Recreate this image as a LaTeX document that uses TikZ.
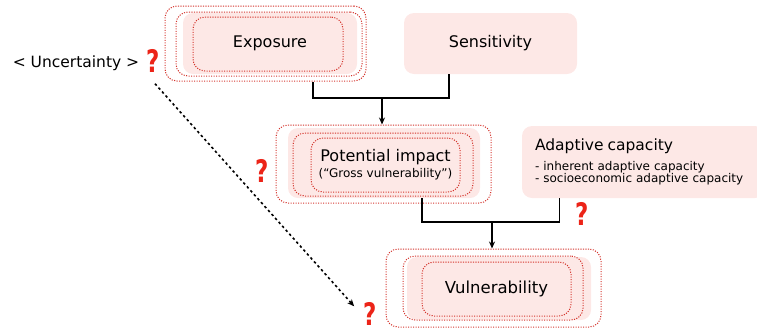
\documentclass[tikz,border=0pt]{standalone}
\usepackage{fontspec}
\setmainfont{DejaVu Sans}
\usepackage{tikz}
\usetikzlibrary{arrows.meta, positioning, calc}
\definecolor{vpink}{RGB}{253,232,230}
\definecolor{vred}{RGB}{212,52,44}
\definecolor{qred}{RGB}{236,36,24}

\begin{document}
\begin{tikzpicture}[
  x=1pt,y=-1pt,
  font=\fontsize{16}{19}\selectfont,
  box/.style={fill=vpink,rounded corners=10pt,inner sep=0pt},
  ring/.style={draw=vred,line width=1pt,dash pattern=on 1.1pt off 1.4pt,
               rounded corners=12pt,inner sep=0pt},
  link/.style={line width=1.2pt,black},
  arr/.style={-{Stealth[length=7pt,width=6pt]},line width=1.2pt,black},
  dasharr/.style={-{Stealth[length=7pt,width=6pt]},line width=1.6pt,
                  dash pattern=on 2.5pt off 2.8pt},
  qm/.style={text=qred,inner sep=0pt,font=\fontsize{27}{27}\selectfont\bfseries}
]
  \useasboundingbox (0,0) rectangle (757,333);

  % top row
  \node[ring,minimum width=201pt,minimum height=75pt] (expoOut) at (265.5,43.5) {};
  \node[box,minimum width=174pt,minimum height=61pt] (expo) at (270,43.5) {Exposure};
  \node[ring,minimum width=186pt,minimum height=64pt] (expoMid) at (269,44) {};
  \node[ring,minimum width=150pt,minimum height=54pt] (expoIn) at (268,44) {};
  \node[box,minimum width=173pt,minimum height=61pt] (sens) at (490.5,43.5) {Sensitivity};

  % middle row
  \node[box,minimum width=192pt,minimum height=70pt] (pot) at (384,163) {};
  \node[ring,minimum width=215pt,minimum height=78pt] (potOut) at (383.5,164) {};
  \node[ring,minimum width=180pt,minimum height=63pt] (potMid) at (383,164.5) {};
  \node[ring,minimum width=149pt,minimum height=54pt,align=center] (potIn) at (385.5,165)
    {Potential impact\\[-3pt]{\fontsize{12}{14}\selectfont(“Gross vulnerability”)}};
  \node[box,minimum width=243pt,minimum height=72pt,text width=217pt,inner xsep=13pt,
        align=left,font=\fontsize{12}{12.5}\selectfont] (ada) at (643.5,162)
    {{\fontsize{15.5}{18}\selectfont Adaptive capacity}\\[7pt]
     - inherent adaptive capacity\\
     - socioeconomic adaptive capacity};

  % bottom row
  \node[box,minimum width=184pt,minimum height=63pt] (vul) at (499,288.5) {};
  \node[ring,minimum width=215pt,minimum height=78pt] (vulOut) at (493.5,288) {};
  \node[ring,minimum width=180pt,minimum height=64pt] (vulMid) at (493,288) {};
  \node[ring,minimum width=149pt,minimum height=54pt,font=\fontsize{16.5}{19}\selectfont]
    (vulIn) at (496.5,289) {Vulnerability};

  % uncertainty
  \node[font=\fontsize{15.5}{18}\selectfont] (unc) at (76,63) {< Uncertainty >};
  \node[qm] (qunc) at (153,61) {\scalebox{0.85}[1.15]{?}};
  \node[qm] (qpot) at (262,171) {\scalebox{0.85}[1.15]{?}};
  \node[qm] (qada) at (582,214) {\scalebox{0.85}[1.15]{?}};
  \node[qm] (qvul) at (370,314) {\scalebox{0.85}[1.15]{?}};

  % connectors
  \coordinate (j1) at (382,98);
  \coordinate (j2) at (492,222);
  \draw[link] ([xshift=47.5pt]expoOut.south) |- (j1) -| ([xshift=-41.5pt]sens.south);
  \draw[arr] (j1) -- (j1 |- potOut.north);
  \draw[link] ([xshift=38pt]pot.south) |- (j2) -| ([xshift=38pt]ada.south west);
  \draw[arr] (j2) -- (j2 |- vulOut.north);
  \draw[dasharr] ($(qunc.south)+(2,11)$) -- ($(qvul.north west)+(-9,4)$);
\end{tikzpicture}
\end{document}
